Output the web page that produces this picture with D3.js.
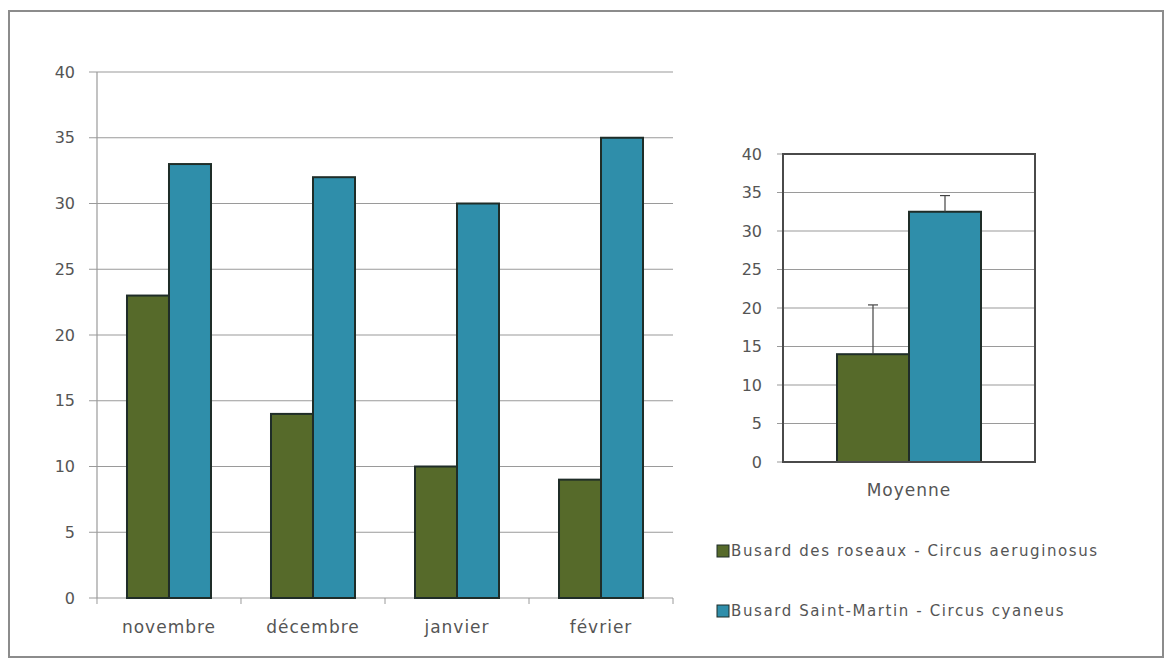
<!DOCTYPE html>
<html><head><meta charset="utf-8">
<script src="https://cdn.jsdelivr.net/npm/d3@7"></script>
<style>body{margin:0;background:#fff}svg{display:block;font-family:"DejaVu Sans",sans-serif}</style>
</head><body>
<svg id="c" width="1169" height="661"></svg>
<script>
const months = ["novembre", "décembre", "janvier", "février"];
const seriesNames = ["Busard des roseaux - Circus aeruginosus", "Busard Saint-Martin - Circus cyaneus"];
const roseaux = [23, 14, 10, 9];
const saintMartin = [33, 32, 30, 35];
const meanCategory = ["Moyenne"];
const meanValues = [14, 32.5];
const errValues = [6.4, 2.1];
const yTicks = [0, 5, 10, 15, 20, 25, 30, 35, 40];
const colors = ["#566a2a", "#2f8eaa"];

const svg = d3.select("#c");
// outer frame
svg.append("rect").attr("x", 9).attr("y", 11).attr("width", 1154).attr("height", 646)
  .attr("fill", "none").attr("stroke", "#8c8c8c").attr("stroke-width", 2);

const txt = "#555555";

// ---------- Left chart ----------
const L = {x0: 97, x1: 673, y0: 598, y1: 72};
const y = d3.scaleLinear().domain([0, 40]).range([L.y0, L.y1]);
const x0 = d3.scaleBand().domain(months).range([L.x0, L.x1]).paddingInner(0.4167).paddingOuter(0.2083);
const x1 = d3.scaleBand().domain([0, 1]).range([0, x0.bandwidth()]);

const gl = svg.append("g");
gl.append("g").selectAll("line").data(yTicks).join("line")
  .attr("x1", L.x0 - 8).attr("x2", L.x1).attr("y1", d => y(d)).attr("y2", d => y(d))
  .attr("stroke", "#9a9a9a").attr("stroke-width", 1.2);
gl.append("line").attr("x1", L.x0).attr("x2", L.x0).attr("y1", L.y1).attr("y2", L.y0)
  .attr("stroke", "#9a9a9a").attr("stroke-width", 1.2);
const yAxL = d3.axisLeft(y).tickValues(yTicks).tickSize(0).tickPadding(22);
const ga = gl.append("g").attr("transform", `translate(${L.x0},0)`).call(yAxL);
ga.select(".domain").remove();
ga.selectAll("text").attr("fill", txt).style("font-size", "16px").style("font-family", "DejaVu Sans");
// category tick marks
const bounds = months.map(m => x0(m) - x0.step() * x0.paddingInner() / 2).concat([L.x1]);
gl.append("g").selectAll("line").data(bounds).join("line")
  .attr("x1", d => d).attr("x2", d => d).attr("y1", L.y0).attr("y2", L.y0 + 6)
  .attr("stroke", "#9a9a9a");
const xAxL = d3.axisBottom(x0).tickSize(0).tickPadding(23);
const gx = gl.append("g").attr("transform", `translate(0,${L.y0})`).call(xAxL);
gx.select(".domain").remove();
gx.selectAll("text").attr("fill", txt).style("font-size", "17px").style("letter-spacing", "1px")
  .style("font-family", "DejaVu Sans");

const data = months.map((m, i) => ({m, v: [roseaux[i], saintMartin[i]]}));
const grp = gl.append("g").selectAll("g").data(data).join("g")
  .attr("transform", d => `translate(${x0(d.m)},0)`);
grp.selectAll("rect").data(d => d.v.map((v, k) => ({v, k}))).join("rect")
  .attr("x", d => x1(d.k)).attr("width", x1.bandwidth())
  .attr("y", d => y(d.v)).attr("height", d => y(0) - y(d.v))
  .attr("fill", d => colors[d.k]).attr("stroke", "#1f2d28").attr("stroke-width", 2);

// ---------- Right chart ----------
const R = {x0: 783, x1: 1035, y0: 462, y1: 154};
const yr = d3.scaleLinear().domain([0, 40]).range([R.y0, R.y1]);
const xr = d3.scaleBand().domain(meanCategory).range([R.x0, R.x1]).paddingOuter(0.375);
const xr1 = d3.scaleBand().domain([0, 1]).range([0, xr.bandwidth()]);
const gr = svg.append("g");
gr.append("g").selectAll("line").data(yTicks).join("line")
  .attr("x1", R.x0 - 6).attr("x2", R.x1).attr("y1", d => yr(d)).attr("y2", d => yr(d))
  .attr("stroke", "#9a9a9a").attr("stroke-width", 1.2);
const gay = gr.append("g").attr("transform", `translate(${R.x0},0)`)
  .call(d3.axisLeft(yr).tickValues(yTicks).tickSize(0).tickPadding(21));
gay.select(".domain").remove();
gay.selectAll("text").attr("fill", txt).style("font-size", "16px").style("font-family", "DejaVu Sans");
const gax = gr.append("g").attr("transform", `translate(0,${R.y0})`)
  .call(d3.axisBottom(xr).tickSize(0).tickPadding(22));
gax.select(".domain").remove();
gax.selectAll("text").attr("fill", txt).style("font-size", "17px").style("letter-spacing", "1px")
  .style("font-family", "DejaVu Sans");

gr.append("g").selectAll("rect").data(meanValues).join("rect")
  .attr("x", (d, k) => xr("Moyenne") + xr1(k)).attr("width", xr1.bandwidth())
  .attr("y", d => yr(d)).attr("height", d => yr(0) - yr(d))
  .attr("fill", (d, k) => colors[k]).attr("stroke", "#1f2d28").attr("stroke-width", 2);
// error bars
const eb = gr.append("g").selectAll("g").data(meanValues).join("g")
  .attr("transform", (d, k) => `translate(${xr("Moyenne") + xr1(k) + xr1.bandwidth() / 2},0)`);
eb.append("line").attr("y1", d => yr(d)).attr("y2", (d, k) => yr(d + errValues[k]))
  .attr("stroke", "#444").attr("stroke-width", 1.2);
eb.append("line").attr("x1", -5).attr("x2", 5)
  .attr("y1", (d, k) => yr(d + errValues[k])).attr("y2", (d, k) => yr(d + errValues[k]))
  .attr("stroke", "#444").attr("stroke-width", 1.2);
gr.append("rect").attr("x", R.x0).attr("y", R.y1).attr("width", R.x1 - R.x0).attr("height", R.y0 - R.y1)
  .attr("fill", "none").attr("stroke", "#4a4a4a").attr("stroke-width", 2);

// legend
const lg = svg.append("g").selectAll("g").data(seriesNames).join("g")
  .attr("transform", (d, i) => `translate(717,${545 + i * 60})`);
lg.append("rect").attr("width", 12).attr("height", 12).attr("fill", (d, i) => colors[i])
  .attr("stroke", "#1f2d28").attr("stroke-width", 1);
lg.append("text").attr("x", 14).attr("y", 11).text(d => d).attr("fill", txt)
  .style("font-size", "15px").style("letter-spacing", "1.6px");
</script>
</body></html>
